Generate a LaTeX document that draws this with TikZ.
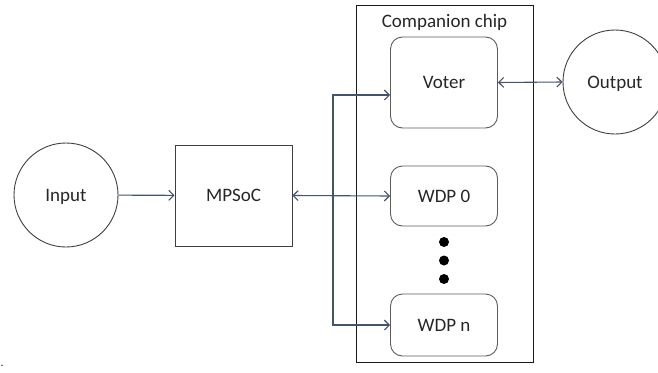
\documentclass[tikz,border=0pt]{standalone}
\usepackage{fontspec}
\setmainfont{Carlito}
\usetikzlibrary{arrows.meta}
\definecolor{linkc}{HTML}{44546A}
\definecolor{edgec}{HTML}{3F3F3F}
\tikzset{
  every node/.style={font=\fontsize{19}{22}\selectfont, text=black!85},
  txt/.style={text height=14pt, text depth=1.8pt},
  circ/.style={txt, circle, draw=edgec, line width=0.9pt, minimum size=104pt, inner sep=0pt},
  sqbox/.style={txt, rectangle, draw=edgec, line width=0.9pt, minimum width=117pt, minimum height=101pt},
  rbox/.style={txt, rectangle, rounded corners=12pt, draw=edgec!85, line width=0.9pt, minimum width=107pt},
  arr/.style={draw=linkc, line width=1.1pt, -{Straight Barb[length=5pt,width=10pt]}},
  darr/.style={draw=linkc, line width=1.1pt, {Straight Barb[length=5pt,width=10pt]}-{Straight Barb[length=5pt,width=10pt]}},
  bigdot/.style={circle, fill=black, inner sep=0pt, minimum size=10pt}
}
\begin{document}
\begin{tikzpicture}[x=1pt, y=-1pt]
\useasboundingbox (0,0) rectangle (658,372);
% companion chip frame
\node[draw=black!90, line width=0.9pt, rectangle, minimum width=177pt, minimum height=357pt, inner sep=0pt] (chip) at (444.5,183.5) {};
\node (chiplabel) at (444.5,22) {Companion chip};
% nodes
\node[circ] (in) at (66,195) {Input};
\node[sqbox] (mp) at (233.5,195.5) {MPSoC};
\node[rbox, minimum height=91pt] (voter) at (444,82.5) {Voter};
\node[rbox, minimum height=60pt] (w0) at (444,196) {WDP 0};
\node[rbox, minimum height=62pt] (wn) at (444,325) {WDP n};
\node[circ] (out) at (615,82) {Output};
\node[bigdot] (d1) at (444,242) {};
\node[bigdot] (d2) at (444,260.5) {};
\node[bigdot] (d3) at (444,279) {};
\node[inner sep=0pt, anchor=base west, font=\fontsize{12}{14}\selectfont] (stray) at (0.5,366) {.};
% connectors
\coordinate (j) at (333,196);
\draw[arr] (in) -- (mp);
\draw[darr] (mp.east) -- (w0.west);
\draw[arr] (j) |- ([yshift=-12.5pt]voter.west);
\draw[arr] (j) |- (wn.west);
\draw[darr] (voter.east) -- (out.west);
\end{tikzpicture}
\end{document}
